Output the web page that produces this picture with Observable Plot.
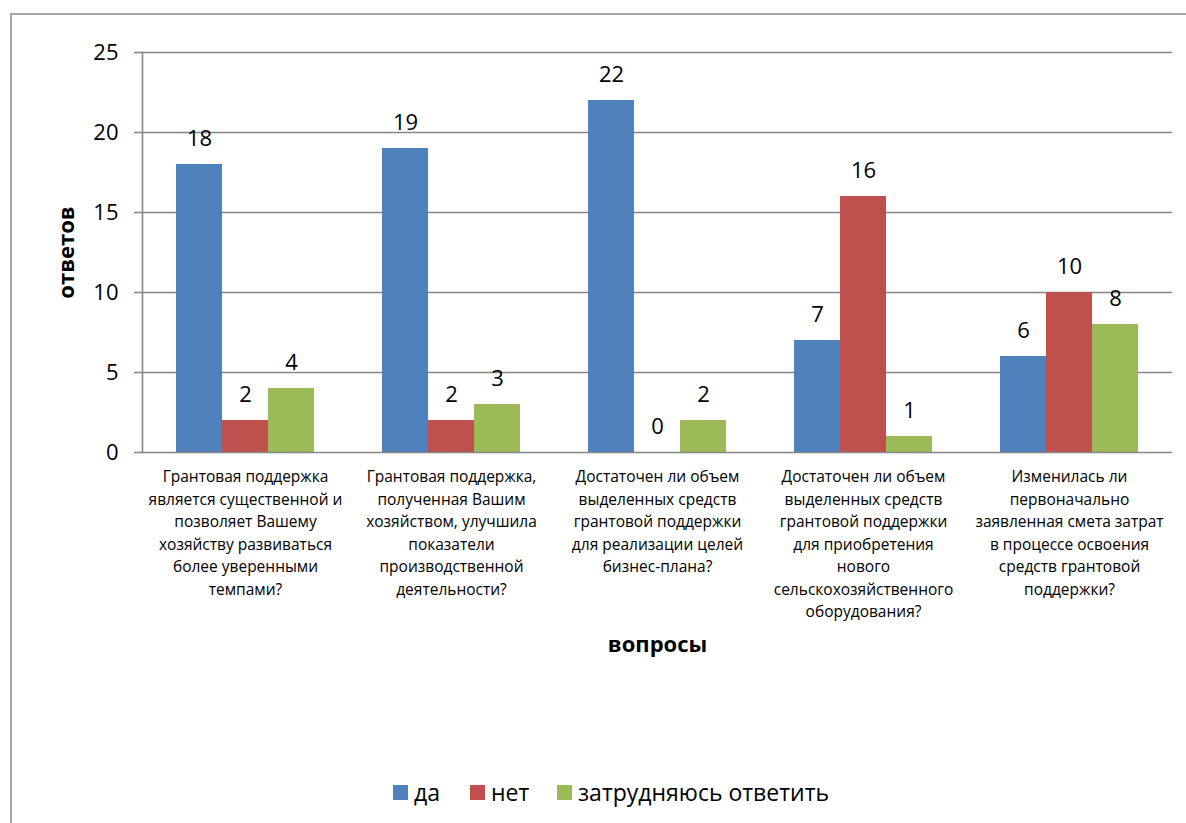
<!DOCTYPE html>
<html>
<head>
<meta charset="utf-8">
<script src="https://cdn.jsdelivr.net/npm/d3@7"></script>
<script src="https://cdn.jsdelivr.net/npm/@observablehq/plot@0.6"></script>
<style>
  html, body { margin: 0; padding: 0; background: #fff; overflow: hidden; width: 1186px; height: 823px; }
  #frame { position: absolute; left: 10px; top: 13px; width: 1300px; height: 900px; border: 2px solid #a6a6a6; box-sizing: border-box; }
  #chart { position: absolute; left: 0; top: 0; }
  #legend { position: absolute; left: 0; top: 776px; width: 1186px; font-family: "Open Sans", sans-serif; font-size: 23px; color: #000; }
  .item { position: absolute; top: 0; display: flex; align-items: center; height: 32px; }
  .sw { width: 15px; height: 15px; display: inline-block; margin-right: 6px; }
</style>
</head>
<body>
<div id="frame"></div>
<div id="chart"></div>
<div id="legend"></div>
<script>
const categories = [
  "Грантовая поддержка\nявляется существенной и\nпозволяет Вашему\nхозяйству развиваться\nболее уверенными\nтемпами?",
  "Грантовая поддержка,\nполученная Вашим\nхозяйством, улучшила\nпоказатели\nпроизводственной\nдеятельности?",
  "Достаточен ли объем\nвыделенных средств\nгрантовой поддержки\nдля реализации целей\nбизнес-плана?",
  "Достаточен ли объем\nвыделенных средств\nгрантовой поддержки\nдля приобретения\nнового\nсельскохозяйственного\nоборудования?",
  "Изменилась ли\nпервоначально\nзаявленная смета затрат\nв процессе освоения\nсредств грантовой\nподдержки?"
];
const series = ["да", "нет", "затрудняюсь ответить"];
const yesValues = [18, 19, 22, 7, 6];
const noValues = [2, 2, 0, 16, 10];
const unsureValues = [4, 3, 2, 1, 8];
const yTicks = [0, 5, 10, 15, 20, 25];
const colors = ["#4F81BD", "#C0504D", "#9BBB59"];
const yLabel = "ответов";
const xLabel = "вопросы";

const valueSets = [yesValues, noValues, unsureValues];
const rows = [];
categories.forEach((c, i) => {
  series.forEach((s, j) => rows.push({cat: c, series: s, value: valueSets[j][i]}));
});

const grid = "#868686";
const W = 1186, H = 700;
const chart = Plot.plot({
  width: W, height: H,
  marginLeft: 142, marginRight: 14, marginTop: 52, marginBottom: H - 452,
  style: {fontFamily: "Open Sans, sans-serif", background: "transparent", color: "#000", overflow: "visible"},
  fx: {domain: categories, padding: 0, label: null},
  x: {domain: series, paddingInner: 0, paddingOuter: 0.739, axis: null},
  y: {domain: [0, 25]},
  color: {domain: series, range: colors},
  marks: [
    Plot.ruleY(yTicks.filter(t => t > 0), {stroke: grid, strokeWidth: 1.6}),
    Plot.barY(rows, {fx: "cat", x: "series", y: "value", fill: "series", inset: 0}),
    Plot.text(rows, {fx: "cat", x: "series", y: "value", text: d => String(d.value), dy: -26, fontSize: 22, fill: "#000"}),
    Plot.ruleY([0], {stroke: grid, strokeWidth: 1.6}),
    Plot.frame({anchor: "left", facetAnchor: "left", stroke: grid, strokeWidth: 1.6}),
    Plot.axisY({ticks: yTicks, tickSize: 8, tickPadding: 16, fontSize: 22, stroke: grid, strokeWidth: 1.6, label: null}),
    Plot.axisY({ticks: [], label: yLabel, labelAnchor: "center", labelArrow: "none", labelOffset: 84, fontSize: 22, fontWeight: "bold"}),
    Plot.axisFx({anchor: "bottom", tickSize: 0, tickPadding: 14, fontSize: 15.5, lineHeight: 1.45, label: null}),
    Plot.axisFx({anchor: "bottom", ticks: [], label: xLabel, labelAnchor: "center", labelArrow: "none", labelOffset: 199, fontSize: 22, fontWeight: "bold"})
  ]
});
document.getElementById("chart").appendChild(chart);

const legend = document.getElementById("legend");
const lx = [393, 470, 557];
series.forEach((s, i) => {
  const it = document.createElement("div");
  it.className = "item";
  it.style.left = lx[i] + "px";
  it.innerHTML = `<span class="sw" style="background:${colors[i]}"></span><span>${s}</span>`;
  legend.appendChild(it);
});
</script>
</body>
</html>
